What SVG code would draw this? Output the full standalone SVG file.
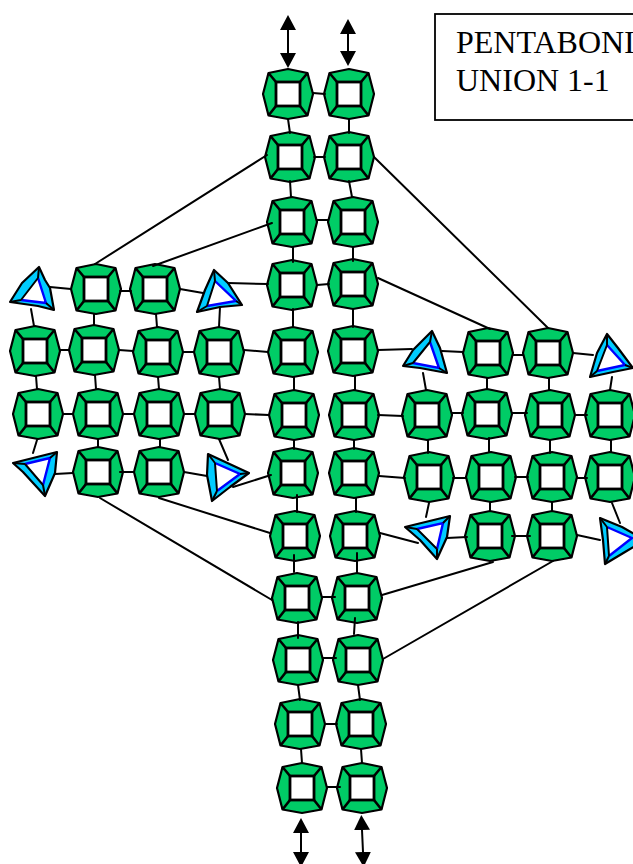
<svg xmlns="http://www.w3.org/2000/svg" xmlns:xlink="http://www.w3.org/1999/xlink" width="633" height="864" viewBox="0 0 633 864">
<style>
.l{stroke:#000;stroke-width:2;fill:none;stroke-linecap:round}
.o{fill:#00cc66;stroke:#000;stroke-width:2.2;stroke-linejoin:round}
.i{fill:#fff;stroke:#000;stroke-width:2.8}
.s{stroke:#000;stroke-width:2.6;fill:none}
.to{fill:#00ccff;stroke:#000;stroke-width:2.2;stroke-linejoin:round}
.tw{fill:#fff;stroke:none}
.tb{fill:none;stroke:#0000ff;stroke-width:2.4}
.tk{fill:none;stroke:#000;stroke-width:2}
.t{font-family:"Liberation Serif","Times New Roman",serif;font-size:32px;fill:#000}
</style>
<defs>
<g id="n">
<polygon class="o" points="0,-25 19.5,-21 25,0 19.5,21.5 0,25 -19.5,21.5 -25,0 -19.5,-21"/>
<path class="s" d="M-19.5,-21L-12,-12M19.5,-21L12,-12M19.5,21.5L12,12M-19.5,21.5L-12,12"/>
<rect class="i" x="-12" y="-12" width="24" height="24"/>
</g>
<marker id="ah" viewBox="0 -8 15 16" refX="0" refY="0" markerWidth="15" markerHeight="16" markerUnits="userSpaceOnUse" orient="auto-start-reverse">
<path d="M0,-8L15,0L0,8z" fill="#000"/>
</marker>
</defs>
<rect width="633" height="864" fill="#fff"/>
<g id="label">
<rect x="435" y="14" width="210" height="106" fill="#fff" stroke="#000" stroke-width="1.8"/>
<text class="t" x="456" y="53">PENTABONI</text>
<text class="t" x="456" y="91">UNION 1-1</text>
</g>
<g id="nodes">
<g id="c1a"><use href="#n" x="288" y="94"/></g>
<g id="c1b"><use href="#n" x="349" y="94"/></g>
<g id="c2a"><use href="#n" x="290" y="157"/></g>
<g id="c2b"><use href="#n" x="349" y="157"/></g>
<g id="c3a"><use href="#n" x="292" y="222"/></g>
<g id="c3b"><use href="#n" x="353" y="222"/></g>
<g id="c4a"><use href="#n" x="292" y="285"/></g>
<g id="c4b"><use href="#n" x="353" y="284"/></g>
<g id="c5a"><use href="#n" x="293" y="352"/></g>
<g id="c5b"><use href="#n" x="353" y="351"/></g>
<g id="c6a"><use href="#n" x="294" y="415"/></g>
<g id="c6b"><use href="#n" x="354" y="415"/></g>
<g id="c7a"><use href="#n" x="293" y="473"/></g>
<g id="c7b"><use href="#n" x="354" y="473"/></g>
<g id="c8a"><use href="#n" x="295" y="536"/></g>
<g id="c8b"><use href="#n" x="355" y="536"/></g>
<g id="c9a"><use href="#n" x="297" y="598"/></g>
<g id="c9b"><use href="#n" x="357" y="598"/></g>
<g id="c10a"><use href="#n" x="298" y="660"/></g>
<g id="c10b"><use href="#n" x="358" y="660"/></g>
<g id="c11a"><use href="#n" x="300" y="724"/></g>
<g id="c11b"><use href="#n" x="361" y="724"/></g>
<g id="c12a"><use href="#n" x="302" y="788"/></g>
<g id="c12b"><use href="#n" x="362" y="788"/></g>
<g id="l1b"><use href="#n" x="96" y="289"/></g>
<g id="l1c"><use href="#n" x="155" y="289"/></g>
<g id="l2a"><use href="#n" x="35" y="351"/></g>
<g id="l2b"><use href="#n" x="94" y="350"/></g>
<g id="l2c"><use href="#n" x="158" y="352"/></g>
<g id="l2d"><use href="#n" x="219" y="352"/></g>
<g id="l3a"><use href="#n" x="38" y="414"/></g>
<g id="l3b"><use href="#n" x="98" y="414"/></g>
<g id="l3c"><use href="#n" x="159" y="414"/></g>
<g id="l3d"><use href="#n" x="220" y="414"/></g>
<g id="l4b"><use href="#n" x="98" y="472"/></g>
<g id="l4c"><use href="#n" x="159" y="472"/></g>
<g id="r1b"><use href="#n" x="488" y="353"/></g>
<g id="r1c"><use href="#n" x="548" y="353"/></g>
<g id="r2a"><use href="#n" x="427" y="415"/></g>
<g id="r2b"><use href="#n" x="487" y="414"/></g>
<g id="r2c"><use href="#n" x="550" y="415"/></g>
<g id="r2d"><use href="#n" x="610" y="415"/></g>
<g id="r3a"><use href="#n" x="429" y="477"/></g>
<g id="r3b"><use href="#n" x="491" y="477"/></g>
<g id="r3c"><use href="#n" x="552" y="477"/></g>
<g id="r3d"><use href="#n" x="610" y="477"/></g>
<g id="r4b"><use href="#n" x="490" y="536"/></g>
<g id="r4c"><use href="#n" x="552" y="536"/></g>
<g id="t1"><polygon class="to" points="39,267 45,280 50,288 54,310 38,306 10,302 22,283"/><polygon class="tw" points="38,278 46,303 21,300"/><path class="tb" d="M38,278L46,303L21,300"/><path class="tk" d="M21,300L38,278M39,267L38,278M54,310L46,303M10,302L21,300"/></g>
<g id="t2"><polygon class="to" points="214,270 228,283 242,305 220,307 197,312 205,290"/><polygon class="tw" points="215,281 236,301 207,306"/><path class="tb" d="M215,281L236,301L207,306"/><path class="tk" d="M207,306L215,281M214,270L215,281M242,305L236,301M197,312L207,306"/></g>
<g id="t3"><polygon class="to" points="13,463 57,452 55,473 45,496 23,472"/><polygon class="tw" points="25,464 50,458 43,485"/><path class="tb" d="M25,464L50,458L43,485"/><path class="tk" d="M43,485L25,464M13,463L25,464M57,452L50,458M45,496L43,485"/></g>
<g id="t4"><polygon class="to" points="208,454 249,473 230,487 212,501 207,475"/><polygon class="tw" points="215,463 240,474 217,491"/><path class="tb" d="M215,463L240,474L217,491"/><path class="tk" d="M217,491L215,463M208,454L215,463M249,473L240,474M212,501L217,491"/></g>
<g id="t5"><polygon class="to" points="432,331 440,348 447,373 420,368 403,366 413,350"/><polygon class="tw" points="430,342 439,368 413,363"/><path class="tb" d="M430,342L439,368L413,363"/><path class="tk" d="M413,363L430,342M432,331L430,342M447,373L439,368M403,366L413,363"/></g>
<g id="t6"><polygon class="to" points="607,334 618,348 633,368 613,372 590,377 597,353"/><polygon class="tw" points="607,345 625,365 597,371"/><path class="tb" d="M607,345L625,365L597,371"/><path class="tk" d="M597,371L607,345M607,334L607,345M633,368L625,365M590,377L597,371"/></g>
<g id="t7"><polygon class="to" points="405,527 450,516 447,537 437,559 420,540"/><polygon class="tw" points="417,529 443,523 437,549"/><path class="tb" d="M417,529L443,523L437,549"/><path class="tk" d="M437,549L417,529M405,527L417,529M450,516L443,523M437,559L437,549"/></g>
<g id="t8"><polygon class="to" points="600,518 622,527 645,540 625,552 605,564 603,540"/><polygon class="tw" points="607,527 632,538 609,556"/><path class="tb" d="M607,527L632,538L609,556"/><path class="tk" d="M609,556L607,527M600,518L607,527M605,564L609,556"/></g>
</g>
<g id="connectors">
<path class="l" d="M288,119L290,133M349,119L349,133M290,181L291,197M349,181L352,197M293,247L293,262M353,247L353,261M293,309L293,327M353,309L353,327M294,377L294,390M355,376L355,390M294,440L294,449M354,440L354,449M297,495L297,512M356,498L356,512M294,555L294,572M357,553L357,572M298,622L298,638M355,618L354,634M298,685L300,700M358,685L360,700M301,749L302,763M361,749L362,763"/>
<path class="l" d="M313,93L325,94M314,157L325,157M317,220L328,220M317,285L329,284M322,597L335,597M323,658L336,658M325,724L337,724M327,787L340,787"/>
<path class="l" d="M50,287L71,289M120,291L131,291M180,289L203,293M228,283L268,284M60,350L69,350M119,350L133,351M183,352L194,352M244,350L268,352M63,414L73,414M123,414L134,414M184,414L195,414M245,414L269,415M55,474L73,473M120,472L134,472M184,472L207,476M233,487L271,475"/>
<path class="l" d="M31,309L34,326M94,314L94,325M156,314L157,327M220,307L219,327M36,376L37,389M95,375L96,389M158,377L159,389M219,377L220,389M37,440L33,453M98,439L98,447M160,439L160,447M219,439L228,460"/>
<path class="l" d="M267,155L95,264M272,223L153,266M159,498L270,533M100,498L272,600"/>
<path class="l" d="M374,157L548,328M378,278L490,329M378,350L412,349M442,351L463,352M513,355L523,355M573,353L593,355M378,415L403,416M452,413L463,413M512,413L527,413M575,415L587,415M379,476L405,478M453,478L466,478M515,477L528,477M577,478L587,478M380,533L418,543M447,538L467,537M512,536L530,536M577,535L600,540M382,595L493,562M383,659L553,561"/>
<path class="l" d="M423,373L426,390M487,378L487,389M549,378L549,390M612,377L610,390M428,440L428,453M489,438L489,452M550,440L550,453M611,440L611,452M429,503L426,517M490,502L490,511M552,502L552,511M612,503L620,523"/>
<line class="l" x1="288" y1="30" x2="288" y2="53" marker-start="url(#ah)" marker-end="url(#ah)"/>
<line class="l" x1="348" y1="34" x2="348" y2="51" marker-start="url(#ah)" marker-end="url(#ah)"/>
<line class="l" x1="301" y1="833" x2="301" y2="852" marker-start="url(#ah)" marker-end="url(#ah)"/>
<line class="l" x1="362" y1="830" x2="363" y2="852" marker-start="url(#ah)" marker-end="url(#ah)"/>
</g>
</svg>
